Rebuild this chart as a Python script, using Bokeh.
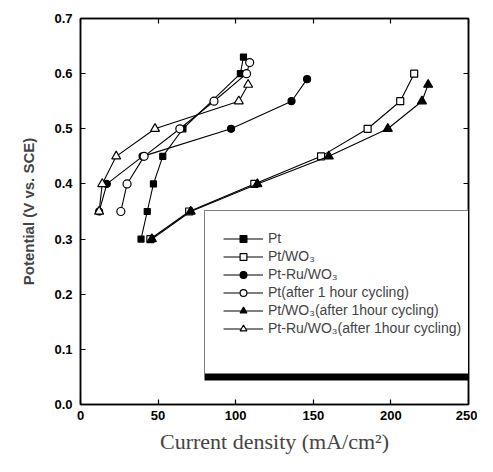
from bokeh.plotting import figure
from bokeh.models import Range1d, LinearAxis, Legend, LegendItem, CustomJSTickFormatter, BoxAnnotation
from bokeh.embed import file_html
from bokeh.resources import INLINE

# data (Current density mA/cm^2, Potential V vs SCE)
pt_x = [39, 43, 47, 53, 66, 103, 105]
pt_y = [0.30, 0.35, 0.40, 0.45, 0.50, 0.60, 0.63]
ptwo3_x = [45, 70, 112, 155, 185, 206, 215]
ptwo3_y = [0.30, 0.35, 0.40, 0.45, 0.50, 0.55, 0.60]
ptru_x = [12, 17, 40, 97, 136, 146]
ptru_y = [0.35, 0.40, 0.45, 0.50, 0.55, 0.59]
ptc_x = [26, 30, 41, 64, 86, 107, 109]
ptc_y = [0.35, 0.40, 0.45, 0.50, 0.55, 0.60, 0.62]
ptwo3c_x = [46, 71, 114, 160, 198, 220, 224]
ptwo3c_y = [0.30, 0.35, 0.40, 0.45, 0.50, 0.55, 0.58]
ptruc_x = [12, 14, 23, 48, 102, 108]
ptruc_y = [0.35, 0.40, 0.45, 0.50, 0.55, 0.58]

x_ticks = [0, 50, 100, 150, 200, 250]
y_ticks = [0.0, 0.1, 0.2, 0.3, 0.4, 0.5, 0.6, 0.7]

labels = ["Pt", "Pt/WO\u2083", "Pt-Ru/WO\u2083", "Pt(after 1 hour cycling)",
          "Pt/WO\u2083(after 1hour cycling)", "Pt-Ru/WO\u2083(after 1hour cycling)"]

p = figure(width=477, height=456, output_backend="svg", toolbar_location=None,
           x_range=Range1d(0, 250), y_range=Range1d(0, 0.7),
           min_border_left=80, min_border_right=9, min_border_top=18, min_border_bottom=52)
p.grid.visible = False
p.outline_line_color = "black"
p.outline_line_width = 1.5

FONT = "Liberation Sans"

def style_axis(ax):
    ax.axis_line_width = 1.5
    ax.major_tick_in = 5
    ax.major_tick_out = 0
    ax.minor_tick_in = 3
    ax.minor_tick_out = 0
    ax.major_tick_line_width = 1.2
    ax.major_label_text_font = FONT
    ax.major_label_text_font_style = "bold"
    ax.major_label_text_font_size = "13px"
    ax.major_label_text_color = "black"

xa = p.xaxis[0]
ya = p.yaxis[0]
xa.ticker = x_ticks
ya.ticker = y_ticks
xa.ticker.num_minor_ticks = 2
ya.ticker.num_minor_ticks = 2
style_axis(xa)
style_axis(ya)
xa.major_label_standoff = 6
ya.major_label_standoff = 8
ya.formatter = CustomJSTickFormatter(code="return tick.toFixed(1);")

xa.axis_label = "Current density (mA/cm\u00b2)"
xa.axis_label_text_font = "Liberation Serif"
xa.axis_label_text_font_style = "normal"
xa.axis_label_text_font_size = "22px"
xa.axis_label_standoff = 6
ya.axis_label = "Potential (V vs. SCE)"
ya.axis_label_text_font = FONT
ya.axis_label_text_font_style = "bold"
ya.axis_label_text_font_size = "15px"
ya.axis_label_standoff = 14

top = LinearAxis(ticker=x_ticks)
top.ticker.num_minor_ticks = 2
style_axis(top)
top.formatter = CustomJSTickFormatter(code="return '';")
top.major_label_standoff = 0
p.add_layout(top, "above")
right = LinearAxis(ticker=y_ticks)
right.ticker.num_minor_ticks = 2
style_axis(right)
right.formatter = CustomJSTickFormatter(code="return '';")
right.major_label_standoff = 0
p.add_layout(right, "right")

series = [
    (pt_x, pt_y, "square", 6, "black", labels[0]),
    (ptwo3_x, ptwo3_y, "square", 7, "white", labels[1]),
    (ptru_x, ptru_y, "circle", 7, "black", labels[2]),
    (ptc_x, ptc_y, "circle", 8, "white", labels[3]),
    (ptwo3c_x, ptwo3c_y, "triangle", 9, "black", labels[4]),
    (ptruc_x, ptruc_y, "triangle", 9, "white", labels[5]),
]

items = []
for xs, ys, m, s, fc, lab in series:
    l = p.line(xs, ys, line_color="black", line_width=1.1)
    sc = p.scatter(xs, ys, marker=m, size=s, fill_color=fc, line_color="black", line_width=1.2)
    items.append(LegendItem(label=lab, renderers=[l, sc]))

# invisible renderer used only for an empty row that pads the legend box bottom
blank = p.line(x=[], y=[], line_alpha=0)
items.append(LegendItem(label=" ", renderers=[blank]))

# legend shadow strip under the box (frame-relative screen units)
p.add_layout(BoxAnnotation(left=124, right=420, bottom=24, top=31,
                           left_units="screen", right_units="screen",
                           top_units="screen", bottom_units="screen",
                           fill_color="black", fill_alpha=1.0,
                           line_color=None, level="overlay"))

leg = Legend(items=items, location=(124, 30), padding=18, spacing=0,
             glyph_width=40, glyph_height=17, label_height=18,
             label_standoff=5, label_width=190, label_text_font=FONT,
             label_text_font_size="14px", margin=0,
             border_line_color="black", border_line_width=1.2,
             background_fill_color="white", background_fill_alpha=1.0)
p.add_layout(leg, "center")

open("out.html", "w").write(file_html(p, INLINE))
